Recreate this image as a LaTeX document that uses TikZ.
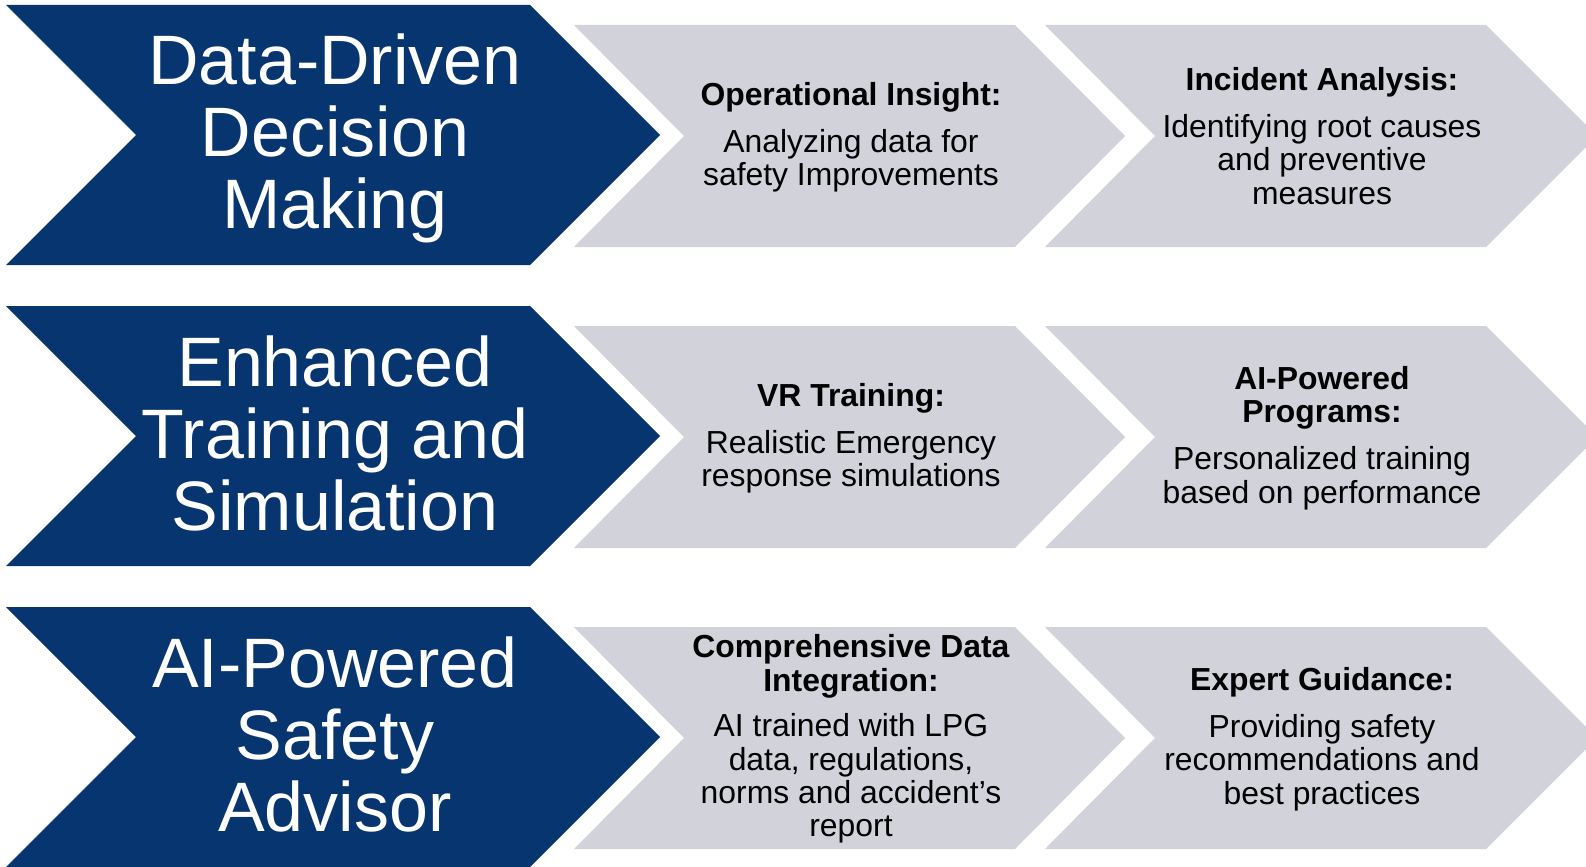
\documentclass[tikz,border=0pt]{standalone}
\usepackage{fontspec}
\setmainfont{Liberation Sans}
\definecolor{navy}{RGB}{6,53,111}
\definecolor{lgray}{RGB}{209,210,218}
\tikzset{
  bluechev/.style={fill=navy},
  graychev/.style={fill=lgray},
  bigtext/.style={text=white, align=center, font=\fontsize{52.5pt}{54pt}\selectfont, inner sep=0pt},
  smalltext/.style={text=black, align=center, font=\fontsize{23.9pt}{25pt}\selectfont, inner sep=0pt}
}
\begin{document}
\begin{tikzpicture}[x=0.75pt,y=-0.75pt]
\useasboundingbox (0,0) rectangle (1586,867);
\clip (0,0) rectangle (1586,867);
\foreach \o in {0,301,602}{
  \fill[bluechev] (6,{5+\o}) -- (530,{5+\o}) -- (660,{135+\o}) -- (530,{265+\o}) -- (6,{265+\o}) -- (136,{135+\o}) -- cycle;
  \fill[graychev] (574,{25+\o}) -- (1015,{25+\o}) -- (1125,{136+\o}) -- (1015,{247+\o}) -- (574,{247+\o}) -- (684,{136+\o}) -- cycle;
  \fill[graychev] (1045,{25+\o}) -- (1486,{25+\o}) -- (1597,{136+\o}) -- (1486,{247+\o}) -- (1045,{247+\o}) -- (1155,{136+\o}) -- cycle;
}
% big labels
\node[bigtext] (b1) at (335,138) {Data-Driven\\Decision\\Making};
\node[bigtext] (b2) at (335,433) {Enhanced\\Training and\\Simulation};
\node[bigtext] (b3) at (335,734) {AI-Powered\\Safety\\Advisor};
% row 1
\node[smalltext] (g11) at (851,137) {\textbf{Operational Insight:}\\[10.3pt]Analyzing data for\\safety Improvements};
\node[smalltext] (g12) at (1322,136) {\textbf{Incident Analysis:}\\[10.3pt]Identifying root causes\\and preventive\\measures};
% row 2
\node[smalltext] (g21) at (851,438) {\textbf{VR Training:}\\[10.3pt]Realistic Emergency\\response simulations};
\node[smalltext] (g22) at (1322,438) {\textbf{AI-Powered}\\\textbf{Programs:}\\[10.3pt]Personalized training\\based on performance};
% row 3
\node[smalltext] (g31) at (851,739) {\textbf{Comprehensive Data}\\\textbf{Integration:}\\[9.2pt]AI trained with LPG\\data, regulations,\\norms and accident’s\\report};
\node[smalltext] (g32) at (1322,739) {\textbf{Expert Guidance:}\\[10.3pt]Providing safety\\recommendations and\\best practices};
\end{tikzpicture}
\end{document}
